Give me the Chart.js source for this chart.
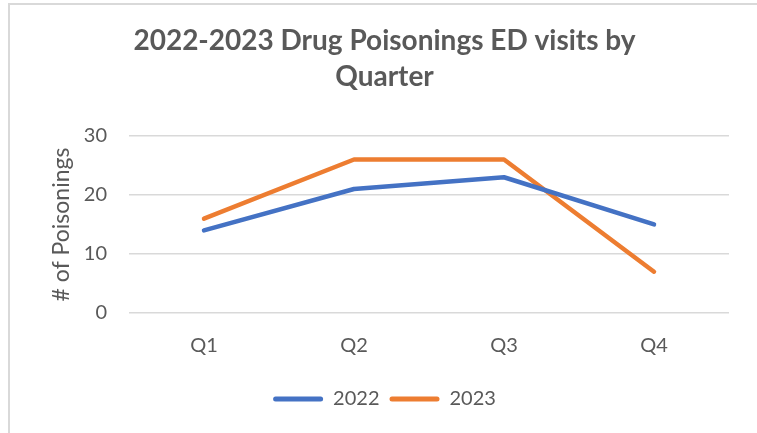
<!DOCTYPE html>
<html>
<head>
<meta charset="utf-8">
<script src="https://cdn.jsdelivr.net/npm/chart.js@4/dist/chart.umd.min.js"></script>
<style>
  html, body { margin: 0; padding: 0; background: #fff; overflow: hidden; }
  #wrap { position: relative; width: 757px; height: 433px; }
  #frame {
    position: absolute; left: 8px; top: 3px; width: 760px; height: 440px;
    border-left: 2px solid #d9d9d9; border-top: 2px solid #d9d9d9;
    box-sizing: border-box;
  }
  canvas { position: absolute; left: 0; top: 0; }
</style>
</head>
<body>
<div id="wrap">
  <div id="frame"></div>
  <canvas id="chart" width="757" height="433"></canvas>
</div>
<script>
// Data
const quarters = ['Q1', 'Q2', 'Q3', 'Q4'];
const visits2022 = [14, 21, 23, 15];
const visits2023 = [16, 26, 26, 7];
const yTicks = [0, 10, 20, 30];

const textGray = '#595959';
const gridGray = '#d9d9d9';
const fontFamily = 'Lato, "Open Sans", sans-serif';

const ctx = document.getElementById('chart');

new Chart(ctx, {
    type: 'line',
    data: {
        labels: quarters,
        datasets: [
            {
                label: '2022',
                data: visits2022,
                borderColor: '#4472C4',
                backgroundColor: '#4472C4',
                borderWidth: 4.5,
                borderCapStyle: 'round',
                borderJoinStyle: 'round',
                pointRadius: 0,
                tension: 0,
                fill: false
            },
            {
                label: '2023',
                data: visits2023,
                borderColor: '#ED7D31',
                backgroundColor: '#ED7D31',
                borderWidth: 4.5,
                borderCapStyle: 'round',
                borderJoinStyle: 'round',
                pointRadius: 0,
                tension: 0,
                fill: false
            }
        ]
    },
    options: {
        responsive: false,
        animation: false,
        layout: {
            padding: { left: 40, right: 28, top: 0, bottom: 14 }
        },
        plugins: {
            title: {
                display: true,
                text: ['2022-2023 Drug Poisonings ED visits by', 'Quarter'],
                color: textGray,
                font: { family: fontFamily, size: 28, weight: 'bold', lineHeight: 1.32 },
                padding: { top: 22, bottom: 40 }
            },
            legend: {
                display: true,
                position: 'bottom',
                labels: {
                    color: textGray,
                    font: { family: fontFamily, size: 20 },
                    boxWidth: 50,
                    boxHeight: 5,
                    useBorderRadius: true,
                    borderRadius: 2.5,
                    padding: 10,
                    generateLabels: (chart) => chart.data.datasets.map((ds, i) => ({
                        text: ds.label,
                        fillStyle: ds.borderColor,
                        strokeStyle: ds.borderColor,
                        lineWidth: 0,
                        fontColor: textGray,
                        hidden: false,
                        datasetIndex: i,
                        borderRadius: 2.5
                    }))
                }
            },
            tooltip: { enabled: false }
        },
        scales: {
            x: {
                offset: true,
                grid: { display: false, drawTicks: false },
                border: { display: false },
                ticks: {
                    color: textGray,
                    font: { family: fontFamily, size: 20 },
                    padding: 21
                }
            },
            y: {
                min: 0,
                max: 30,
                afterFit: (scale) => { scale.width = 89; },
                afterBuildTicks: (scale) => {
                    scale.ticks = yTicks.map(v => ({ value: v }));
                },
                grid: { color: gridGray, lineWidth: 1.5, drawTicks: false },
                border: { display: false },
                ticks: {
                    color: textGray,
                    font: { family: fontFamily, size: 20 },
                    padding: 22
                },
                title: {
                    display: true,
                    text: '# of Poisonings',
                    color: textGray,
                    font: { family: fontFamily, size: 23 },
                    padding: { top: 8, bottom: 0 }
                }
            }
        }
    }
});
</script>
</body>
</html>
